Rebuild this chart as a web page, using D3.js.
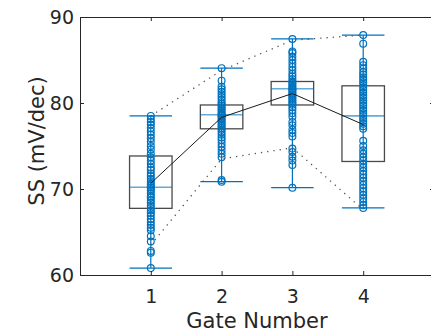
<!DOCTYPE html>
<html>
<head>
<meta charset="utf-8">
<script src="https://cdn.jsdelivr.net/npm/d3@7"></script>
<style>
	body { margin: 0; background: #fff; }
	svg { display: block; font-family: "DejaVu Sans", sans-serif; }
</style>
</head>
<body>
<div id="chart"></div>
<script>
// gate numbers and the measured SS values per gate
const gates = [1, 2, 3, 4];
const gate1 = [60.8, 62.6, 62.8, 63.9, 64.5, 65.2, 65.5, 65.8, 66.2, 66.5, 66.9, 67.2, 67.5, 67.8, 68.1, 68.4, 68.7, 69.0, 69.2, 69.5, 69.8, 70.0, 70.2, 70.4, 70.6, 70.9, 71.2, 71.5, 71.8, 72.2, 72.5, 72.9, 73.3, 73.7, 74.1, 74.6, 75.0, 75.5, 75.9, 76.3, 76.7, 77.1, 77.5, 77.8, 78.1, 78.5];
const gate2 = [70.85, 71.05, 73.7, 74.1, 74.5, 74.9, 75.3, 75.7, 76.0, 76.3, 76.6, 76.9, 77.1, 77.3, 77.5, 77.7, 77.9, 78.1, 78.3, 78.5, 78.6, 78.7, 78.9, 79.1, 79.3, 79.5, 79.7, 79.9, 80.1, 80.4, 80.7, 81.0, 81.3, 81.6, 81.9, 82.6, 84.05];
const gate3 = [70.15, 72.8, 73.3, 73.75, 74.3, 74.7, 76.1, 76.5, 76.9, 77.4, 77.8, 78.4, 78.8, 79.2, 79.5, 79.8, 80.0, 80.2, 80.4, 80.6, 80.8, 81.0, 81.2, 81.4, 81.6, 81.7, 81.9, 82.1, 82.3, 82.5, 82.8, 83.1, 83.4, 83.8, 84.2, 84.6, 85.0, 85.4, 85.8, 86.0, 87.45];
const gate4 = [67.8, 68.1, 68.5, 68.9, 69.3, 69.7, 70.1, 70.5, 70.9, 71.3, 71.7, 72.1, 72.5, 72.9, 73.3, 73.7, 74.1, 74.5, 75.0, 75.6, 77.0, 77.3, 77.6, 77.9, 78.2, 78.5, 78.8, 79.1, 79.4, 79.7, 80.0, 80.3, 80.6, 80.9, 81.2, 81.5, 81.8, 82.1, 82.4, 82.7, 83.0, 83.3, 83.6, 84.0, 84.4, 84.8, 86.9, 87.9];

// box statistics
const q1 = [67.75, 77.0, 79.77, 73.2];
const medians = [70.2, 78.64, 81.66, 78.5];
const q3 = [73.84, 79.77, 82.5, 82.0];
const means = [70.66, 78.33, 81.1, 77.5];
const upperTrend = [78.5, 83.8, 87.3, 87.9];
const lowerTrend = [63.5, 73.5, 74.8, 67.6];

const yTicks = [60, 70, 80, 90];

let samples = [gate1, gate2, gate3, gate4];
let blue = "#0072BD";
let axisColor = "#262626";
let tickFont = 19;
let labelFont = 21;
let halfBox = 0.3;

let width = 431;
let height = 332;

let svg = d3.select("#chart")
	.append("svg")
	.attr("width", width)
	.attr("height", height);

let x = d3.scaleLinear().domain([0, 5]).range([80, 434]);
let y = d3.scaleLinear().domain([60, 90]).range([275, 17]);

// boxes
let boxes = svg.append("g");
gates.forEach((g, i) => {
	let ext = d3.extent(samples[i]);

	boxes.append("rect")
		.attr("x", x(g - halfBox))
		.attr("y", y(q3[i]))
		.attr("width", x(g + halfBox) - x(g - halfBox))
		.attr("height", y(q1[i]) - y(q3[i]))
		.attr("fill", "none")
		.attr("stroke", "#4a4a4a")
		.attr("stroke-width", 1.3);

	// whisker
	boxes.append("line")
		.attr("x1", x(g)).attr("x2", x(g))
		.attr("y1", y(ext[0])).attr("y2", y(ext[1]))
		.attr("stroke", blue)
		.attr("stroke-width", 1.2);

	ext.forEach(v => {
		boxes.append("line")
			.attr("x1", x(g - halfBox)).attr("x2", x(g + halfBox))
			.attr("y1", y(v)).attr("y2", y(v))
			.attr("stroke", blue)
			.attr("stroke-width", 1.3);
	});

	boxes.selectAll(".pt" + g)
		.data(samples[i])
		.enter()
		.append("circle")
		.attr("cx", x(g))
		.attr("cy", d => y(d))
		.attr("r", 3.4)
		.attr("fill", "none")
		.attr("stroke", blue)
		.attr("stroke-width", 1.2);

	boxes.append("line")
		.attr("x1", x(g - halfBox)).attr("x2", x(g + halfBox))
		.attr("y1", y(medians[i])).attr("y2", y(medians[i]))
		.attr("stroke", blue)
		.attr("stroke-opacity", 0.6)
		.attr("stroke-width", 1.6);
});

// trend lines
let line = d3.line()
	.x((d, i) => x(gates[i]))
	.y(d => y(d));

svg.append("path")
	.attr("d", line(means))
	.attr("fill", "none")
	.attr("stroke", "#1a1a1a")
	.attr("stroke-width", 1);

[upperTrend, lowerTrend].forEach(t => {
	svg.append("path")
		.attr("d", line(t))
		.attr("fill", "none")
		.attr("stroke", "#555")
		.attr("stroke-width", 1.3)
		.attr("stroke-dasharray", "1.3,5");
});

// axes, MATLAB style with the box on
function styleAxis(g) {
	g.select(".domain").attr("stroke", axisColor);
	g.selectAll(".tick line").attr("stroke", axisColor);
	g.selectAll(".tick text")
		.attr("fill", axisColor)
		.attr("font-size", tickFont)
		.attr("font-family", "DejaVu Sans");
}

svg.append("g")
	.attr("transform", "translate(0," + y(60) + ")")
	.call(d3.axisBottom(x).tickValues(gates).tickFormat(d3.format("d")).tickSizeInner(-4).tickSizeOuter(0).tickPadding(15))
	.call(styleAxis);

svg.append("g")
	.attr("transform", "translate(0," + y(90) + ")")
	.call(d3.axisTop(x).tickValues(gates).tickSizeInner(-4).tickSizeOuter(0).tickFormat(""))
	.call(styleAxis);

svg.append("g")
	.attr("transform", "translate(" + x(0) + ",0)")
	.call(d3.axisLeft(y).tickValues(yTicks).tickFormat(d3.format("d")).tickSizeInner(-4).tickSizeOuter(0).tickPadding(6))
	.call(styleAxis);

svg.append("g")
	.attr("transform", "translate(" + x(5) + ",0)")
	.call(d3.axisRight(y).tickValues(yTicks).tickSizeInner(-4).tickSizeOuter(0).tickFormat(""))
	.call(styleAxis);

svg.append("text")
	.attr("x", (x(0) + x(5)) / 2)
	.attr("y", 328)
	.attr("text-anchor", "middle")
	.attr("fill", axisColor)
	.attr("font-size", labelFont)
	.text("Gate Number");

svg.append("text")
	.attr("transform", "translate(44,141) rotate(-90)")
	.attr("text-anchor", "middle")
	.attr("fill", axisColor)
	.attr("font-size", labelFont)
	.text("SS (mV/dec)");
</script>
</body>
</html>
